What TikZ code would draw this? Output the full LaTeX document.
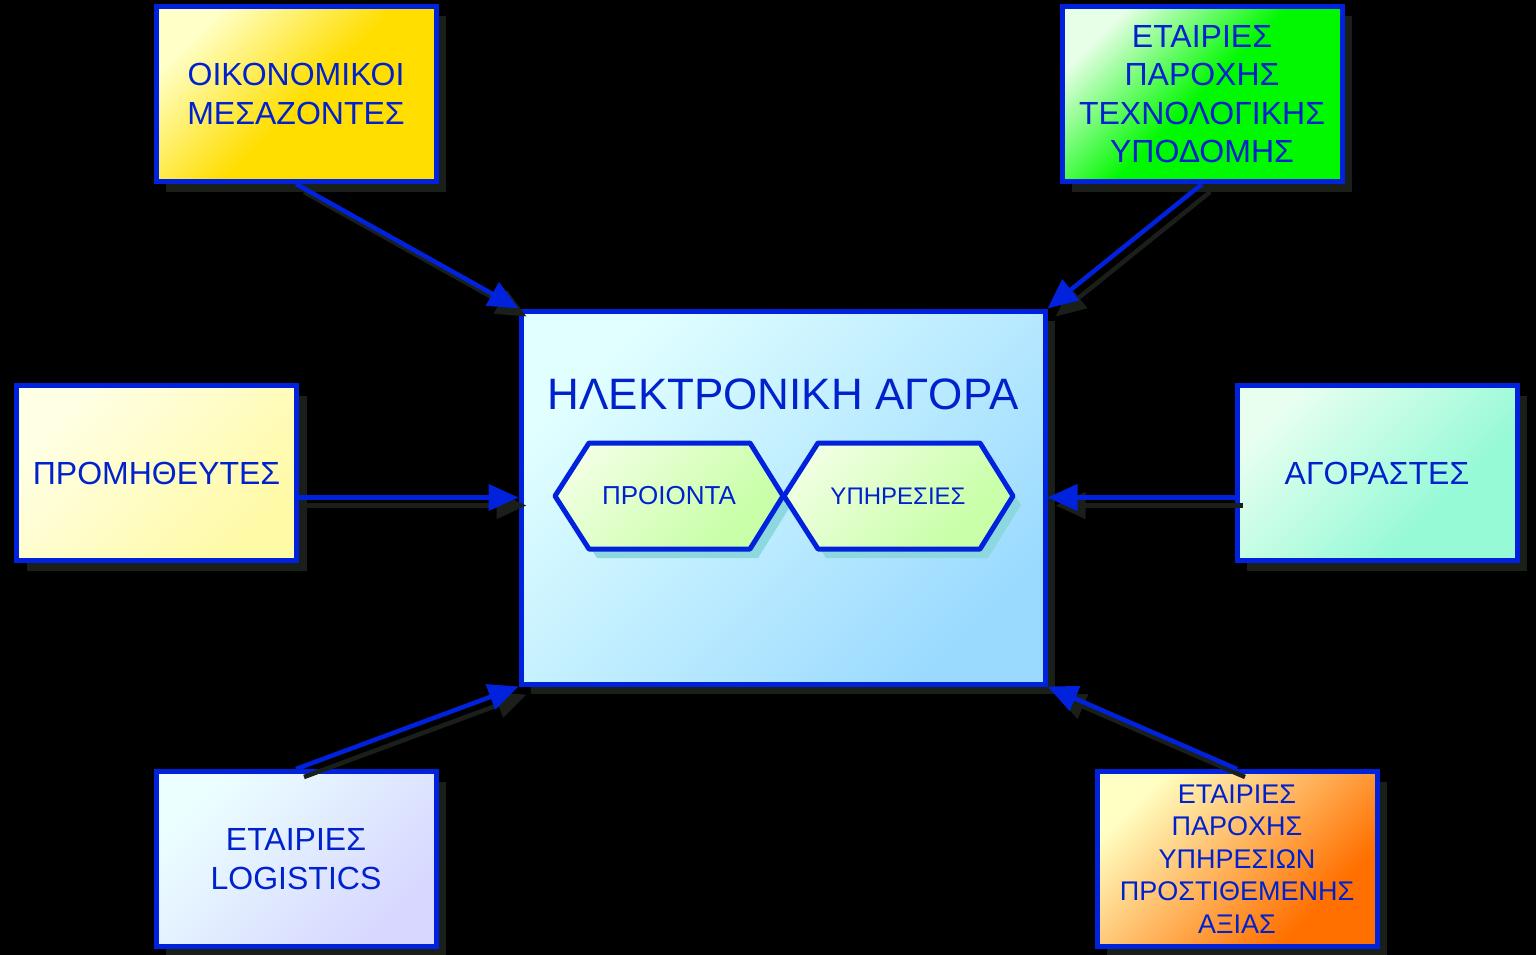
\documentclass[tikz,border=0pt]{standalone}
\usepackage{fontspec}
\setmainfont{Liberation Sans}
\usetikzlibrary{arrows.meta,shadows,calc}
\definecolor{txtblue}{RGB}{0,34,204}
\definecolor{lineblue}{RGB}{0,34,221}
\definecolor{shadowc}{RGB}{26,31,26}
\definecolor{hexshadow}{RGB}{140,216,222}
\definecolor{hexA}{RGB}{240,255,225}
\definecolor{hexB}{RGB}{200,255,168}
\definecolor{finA}{RGB}{255,255,200}
\definecolor{finB}{RGB}{255,222,0}
\definecolor{techA}{RGB}{230,255,230}
\definecolor{techB}{RGB}{0,248,0}
\definecolor{suppA}{RGB}{255,255,230}
\definecolor{suppB}{RGB}{255,250,165}
\definecolor{buyA}{RGB}{232,255,240}
\definecolor{buyB}{RGB}{150,250,215}
\definecolor{logA}{RGB}{235,255,255}
\definecolor{logB}{RGB}{215,215,255}
\definecolor{vasA}{RGB}{255,255,195}
\definecolor{vasB}{RGB}{255,112,0}
\definecolor{mkA}{RGB}{225,255,255}
\definecolor{mkB}{RGB}{155,218,255}
% corner-to-corner gradients: light at the top left corner
\pgfdeclareverticalshading{finsh}{100bp}{color(0bp)=(finB); color(48bp)=(finB); color(75bp)=(finA); color(100bp)=(finA)}
\pgfdeclareverticalshading{techsh}{100bp}{color(0bp)=(techB); color(50bp)=(techB); color(75bp)=(techA); color(100bp)=(techA)}
\pgfdeclareverticalshading{suppsh}{100bp}{color(0bp)=(suppB); color(25bp)=(suppB); color(75bp)=(suppA); color(100bp)=(suppA)}
\pgfdeclareverticalshading{buysh}{100bp}{color(0bp)=(buyB); color(35bp)=(buyB); color(75bp)=(buyA); color(100bp)=(buyA)}
\pgfdeclareverticalshading{logsh}{100bp}{color(0bp)=(logB); color(25bp)=(logB); color(75bp)=(logA); color(100bp)=(logA)}
\pgfdeclareverticalshading{vassh}{100bp}{color(0bp)=(vasB); color(30bp)=(vasB); color(75bp)=(vasA); color(100bp)=(vasA)}
\pgfdeclareverticalshading{mksh}{100bp}{color(0bp)=(mkB); color(25bp)=(mkB); color(75bp)=(mkA); color(100bp)=(mkA)}
\pgfdeclareverticalshading{hexsh}{100bp}{color(0bp)=(hexB); color(30bp)=(hexB); color(75bp)=(hexA); color(100bp)=(hexA)}
\begin{document}
\begin{tikzpicture}[x=1pt,y=-1pt,
 grad/.style={shading=#1sh, shading angle=45},
 box/.style={draw=lineblue, line width=5pt, minimum width=280pt, minimum height=175pt,
   inner sep=0pt, align=center, text=txtblue, font=\fontsize{32}{38.4}\selectfont,
   drop shadow={shadow xshift=10pt, shadow yshift=-10pt, fill=shadowc, opacity=1}},
 conn/.style={draw=lineblue, line width=4.5pt, -{Triangle[length=30pt,width=26pt]}},
 connshadow/.style={draw=shadowc, line width=4.5pt, -{Triangle[length=30pt,width=26pt]},
   transform canvas={shift={(8pt,-8pt)}}},
 hexbox/.style={draw=lineblue, line width=5pt, line join=round, grad=hex},
 hexlabel/.style={text=txtblue, inner sep=0pt}
]
\fill[black] (0,0) rectangle (1536,955);
\useasboundingbox (0,0) rectangle (1536,955);

% boxes
\node[box, grad=fin] (fin) at (296,94) {ΟΙΚΟΝΟΜΙΚΟΙ\\ΜΕΣΑΖΟΝΤΕΣ};
\node[box, grad=tech] (tech) at (1202,94) {ΕΤΑΙΡΙΕΣ\\ΠΑΡΟΧΗΣ\\ΤΕΧΝΟΛΟΓΙΚΗΣ\\ΥΠΟΔΟΜΗΣ};
\node[box, grad=supp] (supp) at (156.5,473) {ΠΡΟΜΗΘΕΥΤΕΣ};
\node[box, grad=buy] (buy) at (1377,473) {ΑΓΟΡΑΣΤΕΣ};
\node[box, grad=log] (log) at (296,859) {ΕΤΑΙΡΙΕΣ\\LOGISTICS};
\node[box, grad=vas, font=\fontsize{27}{32.4}\selectfont] (vas) at (1237,859) {ΕΤΑΙΡΙΕΣ\\ΠΑΡΟΧΗΣ\\ΥΠΗΡΕΣΙΩΝ\\ΠΡΟΣΤΙΘΕΜΕΝΗΣ\\ΑΞΙΑΣ};

% central box
\node[box, grad=mk, minimum width=524pt, minimum height=373pt] (market) at (783,497.5) {};
\node[text=txtblue, font=\fontsize{44}{52}\selectfont, inner sep=0pt] (title) at (783,394) {ΗΛΕΚΤΡΟΝΙΚΗ ΑΓΟΡΑ};

% hexagons
\fill[hexshadow] (563,505) -- (597,452) -- (758,452) -- (791,505) -- (758,558) -- (597,558) -- cycle;
\fill[hexshadow] (792,505) -- (826,452) -- (988,452) -- (1021,505) -- (988,558) -- (826,558) -- cycle;
\path[hexbox] (555,496) -- (589,443) -- (750,443) -- (783,496) -- (750,549) -- (589,549) -- cycle;
\path[hexbox] (784,496) -- (818,443) -- (980,443) -- (1013,496) -- (980,549) -- (818,549) -- cycle;
\node[hexlabel, font=\fontsize{26}{30}\selectfont] (prod) at (669,496) {ΠΡΟΙΟΝΤΑ};
\node[hexlabel, font=\fontsize{24}{28}\selectfont] (serv) at (898,496) {ΥΠΗΡΕΣΙΕΣ};

% connector shadows
\draw[connshadow] (fin.south) -- (market.north west);
\draw[connshadow] (tech.south) -- (market.north east);
\draw[connshadow] (supp.east |- market.west) -- (market.west);
\draw[connshadow] (buy.west |- market.east) -- (market.east);
\draw[connshadow] (log.north) -- (market.south west);
\draw[connshadow] (vas.north) -- (market.south east);

% connectors
\draw[conn] (fin.south) -- (market.north west);
\draw[conn] (tech.south) -- (market.north east);
\draw[conn] (supp.east |- market.west) -- (market.west);
\draw[conn] (buy.west |- market.east) -- (market.east);
\draw[conn] (log.north) -- (market.south west);
\draw[conn] (vas.north) -- (market.south east);
\end{tikzpicture}
\end{document}
